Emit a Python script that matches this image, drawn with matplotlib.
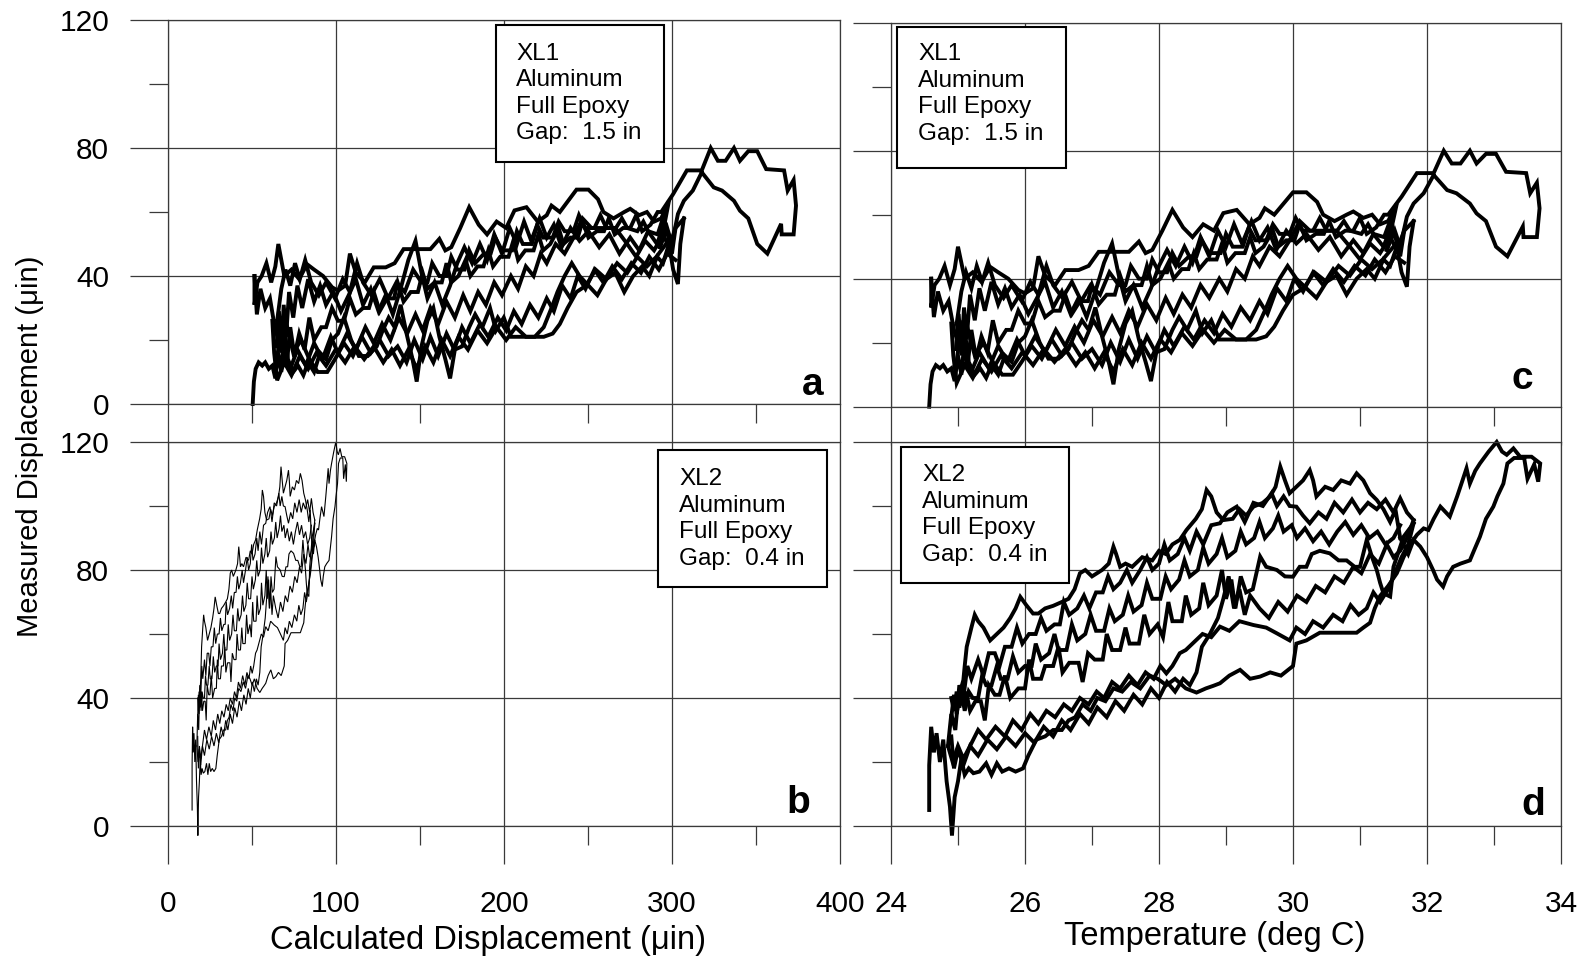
import matplotlib
matplotlib.use("Agg")
import matplotlib.pyplot as plt
from matplotlib.patches import Rectangle

plt.rcParams['font.family'] = ['Liberation Sans', 'DejaVu Sans']

# measured displacement (uin) against temperature (deg C), one list per heating / cooling run
xl1_runs = [
    [(24.57,0),(24.59,7),(24.62,11),(24.67,13),(24.73,12),(24.78,13),(24.84,11),(24.9,12),(24.95,8),(25.0,16),(25.05,10),(25.1,21),(25.14,12),(25.2,24),(25.27,15),(25.35,22),(25.44,17),(25.52,27),(25.6,20),(25.72,24),(25.8,24),(25.9,30),(26.0,26),(26.1,26),(26.2,33),(26.3,28),(26.42,30),(26.52,30),(26.6,35),(26.7,29),(26.82,33),(26.94,33),(27.0,38),(27.1,32),(27.22,35),(27.34,35),(27.42,41),(27.5,36),(27.62,38),(27.74,38),(27.82,44),(27.9,38),(28.02,40),(28.14,45),(28.22,40),(28.34,43),(28.44,43),(28.52,48),(28.6,43),(28.72,46),(28.86,46),(28.94,51),(29.02,45),(29.14,48),(29.28,48),(29.36,53),(29.44,48),(29.56,50),(29.7,55),(29.78,50),(29.9,52),(30.02,52),(30.1,57),(30.2,52),(30.34,54),(30.46,54),(30.54,58),(30.64,53),(30.78,55),(30.9,55),(31.0,59),(31.1,54),(31.24,56),(31.36,60),(31.42,60),(31.62,65.6),(31.85,73),(32.1,73),(32.25,80),(32.37,76),(32.5,76),(32.64,80),(32.74,76),(32.88,79),(33.03,79),(33.18,73.4),(33.48,73),(33.54,66.7),(33.64,70),(33.68,62),(33.64,53),(33.44,53),(33.43,56.3),(33.2,47),(33.03,50),(32.88,58),(32.74,60.4),(32.64,63.5),(32.44,66.7),(32.3,67.7),(32.1,72.4),(31.95,66.7),(31.8,63.5),(31.7,59.4),(31.6,50),(31.52,55),(31.4,49)],
    [(31.4,49),(31.55,63.5),(31.42,58),(31.3,57),(31.18,60),(31.05,59),(30.9,61),(30.8,60),(30.62,58),(30.45,60),(30.36,64),(30.2,67),(30.0,67),(29.86,63.5),(29.72,60),(29.58,62),(29.5,59),(29.35,57),(29.16,61.5),(28.96,60.5),(28.82,55),(28.66,57),(28.5,53),(28.36,56),(28.2,61.5),(28.05,55),(27.9,49),(27.8,48),(27.7,51.6),(27.55,48.4),(27.3,48.4),(27.1,48.4),(26.95,44),(26.8,42.7),(26.6,42.7),(26.45,38),(26.3,41),(26.2,47),(26.12,37),(26.0,35.4),(25.9,36.5),(25.75,40),(25.6,42),(25.48,43.7),(25.35,39),(25.22,42),(25.1,40),(25.0,50),(24.95,43),(24.88,38),(24.8,44),(24.72,40),(24.65,38),(24.6,31),(24.6,40)],
    [(24.6,40),(24.64,28),(24.7,36),(24.78,30),(24.86,33),(24.94,24),(25.0,20),(25.08,27),(25.16,14),(25.25,10),(25.33,12),(25.42,9),(25.5,13),(25.6,10),(25.7,16),(25.8,14),(25.9,20),(26.0,22),(26.1,27),(26.22,20),(26.35,15),(26.5,15),(26.65,18),(26.75,23),(26.85,27),(26.95,24),(27.05,31),(27.15,22),(27.25,14),(27.32,7),(27.4,18),(27.5,26),(27.6,30),(27.7,21),(27.8,14),(27.88,8),(27.96,17),(28.08,18),(28.2,24),(28.3,28),(28.42,24),(28.55,30),(28.65,23),(28.78,27),(28.9,21),(29.1,21),(29.3,21),(29.45,24),(29.58,30),(29.68,35),(29.8,40),(29.92,44),(30.05,40),(30.2,37),(30.35,34),(30.5,39),(30.65,41),(30.8,35),(30.95,40),(31.1,43),(31.22,40),(31.35,46),(31.45,44),(31.55,50),(31.62,42),(31.7,37.5),(31.74,50),(31.8,58)],
    [(31.8,58),(31.66,55),(31.55,49),(31.45,53),(31.3,48),(31.15,51),(31.0,46),(30.85,50),(30.65,55),(30.45,55),(30.25,55),(30.1,58),(29.95,52),(29.8,47),(29.65,50),(29.5,44),(29.4,47),(29.28,40),(29.15,43),(29.02,36),(28.9,40),(28.75,34),(28.62,38),(28.48,31),(28.35,35),(28.22,29),(28.1,34),(27.96,27),(27.82,32),(27.68,25),(27.55,30),(27.42,23),(27.3,28),(27.16,22),(27.02,27),(26.88,20),(26.74,25),(26.6,19),(26.46,24),(26.3,17),(26.15,22),(26.0,16),(25.88,21),(25.74,14),(25.6,19),(25.46,12),(25.32,17),(25.2,11),(25.1,16),(25.03,23),(24.97,12)],
    [(24.97,18),(25.01,29),(25.05,16),(25.09,31),(25.13,21),(25.18,35),(25.25,27),(25.32,37),(25.4,30),(25.5,39),(25.6,32),(25.7,37),(25.8,31),(25.92,35),(26.05,29),(26.18,34),(26.3,39),(26.42,31),(26.55,36),(26.68,29),(26.8,34),(26.92,28),(27.05,36),(27.18,45),(27.3,51),(27.4,41),(27.5,33),(27.62,38),(27.75,31),(27.88,37),(28.0,44),(28.12,49),(28.25,44),(28.38,50),(28.5,45),(28.62,53),(28.75,47),(28.88,55),(29.0,50),(29.12,57),(29.24,51),(29.38,58),(29.5,52),(29.62,56),(29.75,49),(29.9,55),(30.05,51),(30.2,54),(30.38,49),(30.55,53),(30.72,47),(30.9,52),(31.05,48),(31.2,54),(31.35,50),(31.48,57),(31.6,47),(31.66,55)],
    [(31.66,45),(31.52,47),(31.38,42),(31.22,46),(31.08,41),(30.92,44),(30.76,39),(30.6,43),(30.45,38),(30.3,42),(30.15,36),(30.02,40),(29.9,33),(29.76,37),(29.62,29),(29.5,33),(29.36,27),(29.22,31),(29.08,25),(28.95,29),(28.82,23),(28.68,27),(28.52,21),(28.38,25),(28.22,19),(28.08,24),(27.95,17),(27.82,22),(27.68,15),(27.55,21),(27.42,14),(27.28,20),(27.15,13),(27.0,18),(26.85,15),(26.7,20),(26.55,16),(26.4,21),(26.25,15),(26.1,19),(25.95,14),(25.82,10),(25.66,10),(25.52,14),(25.38,20),(25.25,16),(25.15,24),(25.05,19),(24.98,26)],
    [(24.98,26),(25.05,36),(25.12,42),(25.2,37),(25.28,44),(25.36,39),(25.45,45),(25.55,38),(25.68,34),(25.8,38),(25.95,33),(26.08,39),(26.2,35),(26.32,44),(26.42,38),(26.56,34),(26.7,39),(26.84,33),(26.98,38),(27.12,35),(27.26,42),(27.4,38),(27.5,38),(27.58,44),(27.7,40),(27.82,40),(27.9,46),(28.0,42),(28.12,42),(28.2,48),(28.3,44),(28.45,47),(28.56,47),(28.64,52),(28.75,48),(28.92,48),(29.0,54),(29.1,50),(29.25,50),(29.34,56),(29.44,52),(29.6,52),(29.7,57),(29.8,54),(29.95,54),(30.04,59),(30.14,55),(30.3,55),(30.4,59),(30.5,55),(30.66,55),(30.76,58),(30.85,55),(31.02,54),(31.12,57),(31.2,54),(31.36,53),(31.5,61)],
    [(31.5,50),(31.34,46),(31.18,43),(31.02,46),(30.85,41),(30.68,44),(30.5,39),(30.32,42),(30.16,37),(30.0,35),(29.85,30),(29.72,25),(29.6,22),(29.45,21),(29.3,21),(29.15,21),(28.98,24),(28.82,20),(28.66,24),(28.5,19),(28.34,23),(28.18,17),(28.02,21),(27.88,15),(27.74,20),(27.6,13),(27.46,18),(27.32,11),(27.18,17),(27.04,12),(26.9,17),(26.76,13),(26.6,18),(26.44,14),(26.28,18),(26.12,13),(25.96,17),(25.8,12),(25.64,16),(25.5,11),(25.36,15),(25.22,9),(25.1,13),(24.98,7.4),(24.93,16),(24.9,26)],
]

xl2_runs = [
    [(24.57,5),(24.57,19),(24.6,31),(24.64,23),(24.68,29),(24.73,20),(24.78,27),(24.83,14),(24.88,6),(24.91,-3),(24.95,9),(25.0,14),(25.05,21),(25.1,16),(25.16,18),(25.23,16.5),(25.32,17),(25.42,19.6),(25.5,16),(25.58,19.6),(25.66,17),(25.76,18),(25.86,17),(25.97,18),(26.05,22),(26.17,27),(26.3,28),(26.42,30),(26.55,30),(26.65,33),(26.75,34),(26.86,38),(26.98,36),(27.08,40),(27.2,39),(27.32,43),(27.45,42),(27.58,45),(27.72,43),(27.86,47),(27.98,46),(28.11,44),(28.24,46),(28.4,43),(28.56,41.7),(28.7,43),(28.81,43.8),(28.91,44.6),(29.05,47),(29.21,48.8),(29.36,46),(29.51,46.7),(29.66,48),(29.82,47),(30.0,50),(30.05,57),(30.2,58),(30.4,60.4),(30.6,60.4),(30.8,60.4),(30.95,60.4),(31.05,62),(31.15,63.5),(31.22,68),(31.3,71.9),(31.42,75),(31.55,79),(31.65,84),(31.75,88),(31.85,91),(31.95,93),(32.02,92.5),(32.1,96),(32.2,99.8),(32.34,96.7),(32.45,103),(32.53,108),(32.59,111.8),(32.64,107),(32.72,111),(32.79,113.3),(32.92,117),(33.04,120),(33.12,117),(33.19,116),(33.29,118),(33.39,115.4),(33.56,115.4),(33.69,113.3),(33.66,107.6),(33.6,113),(33.5,108.5),(33.45,115),(33.3,115),(33.2,113.3),(33.14,107),(33.05,103),(32.99,99.8),(32.88,96),(32.79,90.4),(32.7,86),(32.64,83),(32.5,82),(32.39,81),(32.3,78),(32.24,74.8),(32.15,77),(32.09,80),(32.0,84),(31.9,87.3),(31.8,89.4),(31.72,85),(31.6,90)],
    [(31.6,90),(31.53,98.8),(31.45,95),(31.35,99),(31.25,101.9),(31.15,104),(31.05,108),(30.95,110.2),(30.85,107),(30.72,108),(30.6,105),(30.48,106),(30.35,103),(30.3,108),(30.25,111.2),(30.15,108),(30.05,106),(29.95,104),(29.88,108),(29.81,112.3),(29.74,106),(29.66,103),(29.55,101),(29.41,99.8),(29.3,97),(29.2,99),(29.1,96),(28.96,95.6),(28.86,98),(28.78,103),(28.71,105),(28.64,99),(28.55,96),(28.41,92.5),(28.31,89.4),(28.2,88),(28.1,85),(28.0,86),(27.9,83),(27.75,84),(27.6,81),(27.5,82),(27.42,81),(27.36,85),(27.32,87.3),(27.25,82),(27.15,80),(27.0,78),(26.9,80),(26.82,79),(26.74,74),(26.65,71),(26.55,70),(26.42,68.8),(26.3,68),(26.2,66.4),(26.12,66.4),(26.02,69),(25.93,71.6),(25.86,68),(25.78,65),(25.68,62),(25.58,60),(25.48,58),(25.38,62),(25.3,64),(25.25,66),(25.2,62),(25.13,56),(25.1,50),(25.08,45.6),(25.02,41),(24.96,37)],
    [(24.9,34),(24.94,41),(24.98,35),(25.02,40),(25.08,38),(25.12,42),(25.18,36),(25.26,39),(25.34,39),(25.4,33),(25.46,44),(25.55,41),(25.62,41),(25.7,47),(25.78,40),(25.9,43),(26.0,43),(26.06,52),(26.12,46),(26.24,46),(26.3,50),(26.42,50),(26.5,56),(26.56,48),(26.66,51),(26.8,51),(26.86,45),(26.94,54),(27.04,52),(27.16,52),(27.22,60),(27.3,55),(27.42,55),(27.5,62),(27.56,57),(27.7,57),(27.78,66),(27.86,60),(27.98,63),(28.06,59),(28.14,70),(28.2,64),(28.34,64),(28.4,72),(28.48,66),(28.6,68),(28.66,76),(28.74,69),(28.86,72),(28.94,80),(29.0,71),(29.08,77),(29.14,68),(29.22,78),(29.3,73),(29.4,74),(29.51,84.2),(29.6,81),(29.76,80),(29.88,78),(30.0,77.9),(30.1,81),(30.2,81),(30.28,85),(30.4,86),(30.55,85.2),(30.68,83),(30.8,83),(30.92,81),(31.0,81),(31.1,89.4),(31.18,84),(31.25,80),(31.3,76),(31.35,72.7),(31.45,71.7),(31.5,81),(31.58,86),(31.65,90.4),(31.8,94.6)],
    [(31.8,94.6),(31.72,88),(31.62,84),(31.52,79),(31.42,74),(31.3,70),(31.2,73),(31.1,68),(30.98,66),(30.86,69),(30.74,64),(30.6,66),(30.45,62),(30.3,64),(30.18,60),(30.05,62),(29.95,58),(29.76,60.2),(29.6,62),(29.41,62.8),(29.2,64),(29.05,61),(28.91,62.3),(28.78,59),(28.65,60),(28.5,57),(28.4,55),(28.31,54),(28.2,50),(28.11,47.7),(28.02,50),(27.92,46),(27.8,48),(27.68,44),(27.55,47),(27.42,43),(27.3,45),(27.18,40),(27.07,42),(26.95,38),(26.82,40),(26.7,36),(26.58,38),(26.45,34),(26.32,36),(26.2,32),(26.08,35),(25.95,30),(25.82,33),(25.7,28),(25.56,31),(25.42,27),(25.3,30),(25.18,25),(25.08,21),(25.0,25),(24.92,20),(24.85,25)],
    [(24.85,25),(24.9,35),(24.96,30),(25.02,44),(25.08,40),(25.14,50),(25.2,46),(25.3,52),(25.38,47),(25.46,54),(25.55,54),(25.62,50),(25.7,56),(25.8,56),(25.88,62),(25.96,57),(26.06,60),(26.16,60),(26.24,65),(26.32,61),(26.44,63),(26.52,63),(26.58,70),(26.66,66),(26.78,68),(26.88,72),(26.96,68),(27.06,73),(27.16,73),(27.24,78),(27.32,74),(27.42,76),(27.52,80),(27.6,76),(27.72,80),(27.82,84),(27.9,80),(28.0,82),(28.08,88),(28.16,83),(28.28,85),(28.38,90),(28.46,86),(28.56,92),(28.66,88),(28.78,94),(28.91,94.6),(29.02,98),(29.16,99.8),(29.28,95),(29.41,101),(29.55,100),(29.68,104),(29.76,100),(29.86,103),(29.95,100),(30.05,99.8),(30.15,97),(30.25,94.6),(30.38,98),(30.5,96),(30.62,101),(30.75,98),(30.88,102),(31.0,98),(31.12,101),(31.25,99),(31.38,102),(31.5,98),(31.6,102.4),(31.7,98),(31.8,95.6)],
    [(31.8,95.6),(31.7,90),(31.6,86),(31.5,84),(31.4,88),(31.28,82),(31.15,85),(31.02,79),(30.9,81),(30.76,76),(30.62,78),(30.48,73),(30.34,75),(30.2,70),(30.06,72),(29.92,67),(29.78,70),(29.64,65),(29.5,68),(29.36,72),(29.28,66),(29.2,74),(29.12,68),(29.04,78),(28.96,71),(28.88,65),(28.76,60),(28.64,56),(28.56,48),(28.46,44),(28.36,46),(28.24,42),(28.12,45),(28.0,40),(27.88,43),(27.75,38),(27.62,41),(27.48,36),(27.35,39),(27.22,34),(27.08,37),(26.95,32),(26.82,35),(26.68,30),(26.55,33),(26.42,28),(26.28,31),(26.14,26),(26.0,29),(25.86,25),(25.72,28),(25.58,24),(25.44,27),(25.3,22),(25.18,25),(25.08,19),(25.0,24),(24.94,18),(24.9,28)],
    [(24.9,40),(24.94,36),(24.98,42),(25.02,37),(25.06,41),(25.1,36),(25.16,42),(25.22,40),(25.3,40),(25.36,47),(25.42,44),(25.5,44),(25.58,50),(25.64,46),(25.74,46),(25.82,53),(25.9,48),(26.0,50),(26.1,50),(26.16,57),(26.24,52),(26.36,54),(26.44,60),(26.5,55),(26.62,55),(26.7,63),(26.78,58),(26.9,60),(26.98,66),(27.06,61),(27.18,61),(27.26,68),(27.34,64),(27.46,66),(27.54,72),(27.62,67),(27.74,69),(27.82,76),(27.9,71),(28.02,71),(28.1,78),(28.18,74),(28.3,77),(28.38,83),(28.46,78),(28.58,80),(28.66,87),(28.74,82),(28.86,85),(28.94,90),(29.02,84),(29.14,86),(29.22,92),(29.3,88),(29.42,90),(29.5,95),(29.58,90),(29.7,93),(29.78,97),(29.86,92),(29.98,94),(30.06,90),(30.18,93),(30.3,89),(30.42,92),(30.54,88),(30.66,92),(30.78,95),(30.9,91),(31.02,94),(31.14,90),(31.26,92),(31.38,88),(31.5,90),(31.6,94)],
]

# calculated displacement = (T - ref) * expansion per deg C for each gauge gap
ref_temp = 23.15
calc_per_deg = {'XL1': 35.5, 'XL2': 10.1}

labels = {'XL1': "XL1\nAluminum\nFull Epoxy\nGap:  1.5 in",
          'XL2': "XL2\nAluminum\nFull Epoxy\nGap:  0.4 in"}

W, H = 1587, 959
fig = plt.figure(figsize=(W / 100, H / 100), dpi=100)


def rect(x0, x1, ytop, ybot):
    return [x0 / W, 1 - ybot / H, (x1 - x0) / W, (ybot - ytop) / H]


ax_a = fig.add_axes(rect(168, 840, 20, 404))
ax_b = fig.add_axes(rect(168, 840, 442, 826))
ax_c = fig.add_axes(rect(891, 1561, 22.7, 406.7))
ax_d = fig.add_axes(rect(891, 1561, 442, 826))

panels = [(ax_a, 'XL1', 'calc', 'a', 2.8), (ax_b, 'XL2', 'calc', 'b', 0.8),
          (ax_c, 'XL1', 'temp', 'c', 2.8), (ax_d, 'XL2', 'temp', 'd', 2.8)]

for ax, gauge, kind, letter, lw in panels:
    runs = xl1_runs if gauge == 'XL1' else xl2_runs
    for run in runs:
        t = [p[0] for p in run]
        m = [p[1] for p in run]
        if kind == 'calc':
            x = [(v - ref_temp) * calc_per_deg[gauge] for v in t]
        else:
            x = t
        ax.plot(x, m, color='black', lw=lw, clip_on=False, solid_joinstyle='miter')

    if kind == 'calc':
        ax.set_xlim(0, 400)
        ax.set_xticks([0, 100, 200, 300, 400])
        ax.set_xticks([50, 150, 250, 350], minor=True)
        lx, ly = (384, 6) if letter == 'a' else (375, 7.3)
    else:
        ax.set_xlim(24, 34)
        ax.set_xticks([24, 26, 28, 30, 32, 34])
        ax.set_xticks([25, 27, 29, 31, 33], minor=True)
        lx, ly = (33.43, 8.8) if letter == 'c' else (33.58, 6.7)
    ax.set_ylim(0, 120)
    ax.set_yticks([0, 40, 80, 120])
    ax.set_yticks([20, 60, 100], minor=True)

    ax.grid(True, which='major', color='#3a3a3a', lw=0.9)
    for s in ax.spines.values():
        s.set_color('#3a3a3a')
        s.set_linewidth(0.9)
    ax.tick_params(which='major', direction='out', length=27.4, width=0.9, color='#3a3a3a', labelsize=21.5)
    ax.tick_params(which='minor', direction='out', length=13.7, width=0.9, color='#3a3a3a')
    ax.tick_params(axis='y', pad=15)
    ax.tick_params(axis='x', pad=19)
    if kind == 'temp':
        ax.tick_params(axis='y', labelleft=False)
    if letter in ('a', 'c'):
        ax.tick_params(axis='x', labelbottom=False)

    ax.text(lx, ly, letter, fontsize=28, fontweight='bold', ha='center', va='center')

# annotation boxes (pixel positions in the 1587x959 picture)
boxes = [(496, 664, 25, 162, 516, 42.7, 'XL1'),
         (897, 1066, 26.7, 168.3, 918, 43.3, 'XL1'),
         (658.3, 827.3, 450, 586.7, 679, 468.3, 'XL2'),
         (900.7, 1069, 447.3, 582.7, 922, 464, 'XL2')]
for x0, x1, y0, y1, tx, ty, gauge in boxes:
    fig.add_artist(Rectangle((x0 / W, 1 - y1 / H), (x1 - x0) / W, (y1 - y0) / H,
                             transform=fig.transFigure, facecolor='white',
                             edgecolor='black', lw=1.5, zorder=2))
    fig.text(tx / W, 1 - ty / H, labels[gauge], fontsize=17.5, linespacing=1.27,
             ha='left', va='top', zorder=3)

fig.text(30 / W, 1 - 446 / H, "Measured Displacement (\u03bcin)", rotation=90,
         fontsize=21, ha='center', va='center')
fig.text(488 / W, 1 - 940 / H, "Calculated Displacement (\u03bcin)",
         fontsize=23.5, ha='center', va='center')
fig.text(1215 / W, 1 - 936 / H, "Temperature (deg C)",
         fontsize=23.5, ha='center', va='center')

fig.savefig('out.png', dpi=100)
